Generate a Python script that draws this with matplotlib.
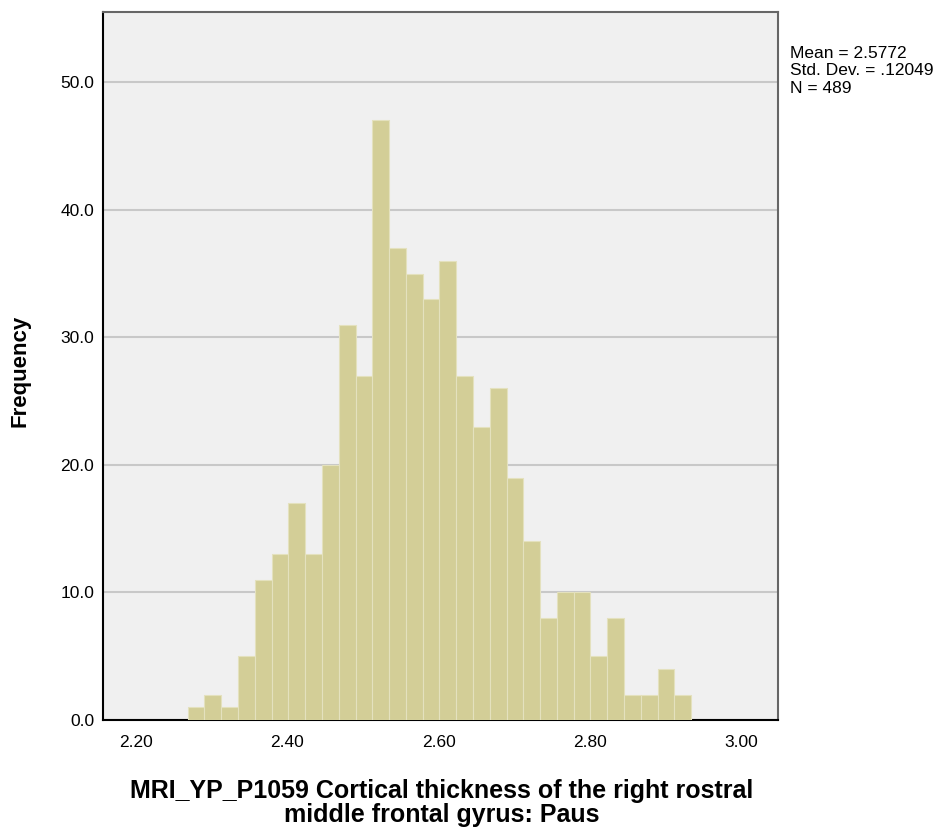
import numpy as np
import matplotlib.pyplot as plt

# Histogram counts (30 bins)
bin_start = 2.268
bin_width = 0.0222
counts = [1, 2, 1, 5, 11, 13, 17, 13, 20, 31, 27, 47, 37, 35, 33,
          36, 27, 23, 26, 19, 14, 8, 10, 10, 5, 8, 2, 2, 4, 2]
y_ticks = [0, 10, 20, 30, 40, 50]
x_ticks = [2.20, 2.40, 2.60, 2.80, 3.00]
stats_text = "Mean = 2.5772\nStd. Dev. = .12049\nN = 489"
x_label = "MRI_YP_P1059 Cortical thickness of the right rostral\nmiddle frontal gyrus: Paus"

plt.rcParams['font.family'] = ['Liberation Sans', 'DejaVu Sans']

fig = plt.figure(figsize=(9.48, 8.3), dpi=100)
ax = fig.add_axes([0.1087, 0.1325, 0.7120, 0.8530])
ax.set_facecolor('#F0F0F0')

lefts = bin_start + bin_width * np.arange(len(counts))
ax.bar(lefts, counts, width=bin_width, align='edge', color='#D3CE97',
       edgecolor='#E4E1BE', linewidth=0.8, zorder=3)

ax.set_xlim(2.156, 3.049)
ax.set_ylim(0, 55.5)
ax.set_yticks(y_ticks)
ax.set_yticklabels([f"{v:.1f}" for v in y_ticks])
ax.set_xticks(x_ticks)
ax.set_xticklabels([f"{v:.2f}" for v in x_ticks])
ax.yaxis.grid(True, color='#C8C8C8', linewidth=1.5, zorder=1)
ax.set_axisbelow(True)

ax.tick_params(axis='y', length=0, labelsize=12.5, colors='black', pad=6.5)
ax.tick_params(axis='x', length=0, labelsize=12.5, pad=10.5)
for s in ['left', 'bottom']:
    ax.spines[s].set_color('black')
    ax.spines[s].set_linewidth(1.5)
for s in ['top', 'right']:
    ax.spines[s].set_color('#666666')
    ax.spines[s].set_linewidth(1.5)

fig.text(0.0214, 0.553, 'Frequency', fontsize=16, fontweight='bold',
         rotation=90, ha='center', va='center')
fig.text(0.4657, 0.0615, x_label, fontsize=18, fontweight='bold',
         ha='center', va='top', multialignment='center', linespacing=0.98)

fig.text(0.8335, 0.9446, stats_text, fontsize=12.5, va='top', ha='left',
         linespacing=1.2)

fig.savefig('out.png', dpi=100)
